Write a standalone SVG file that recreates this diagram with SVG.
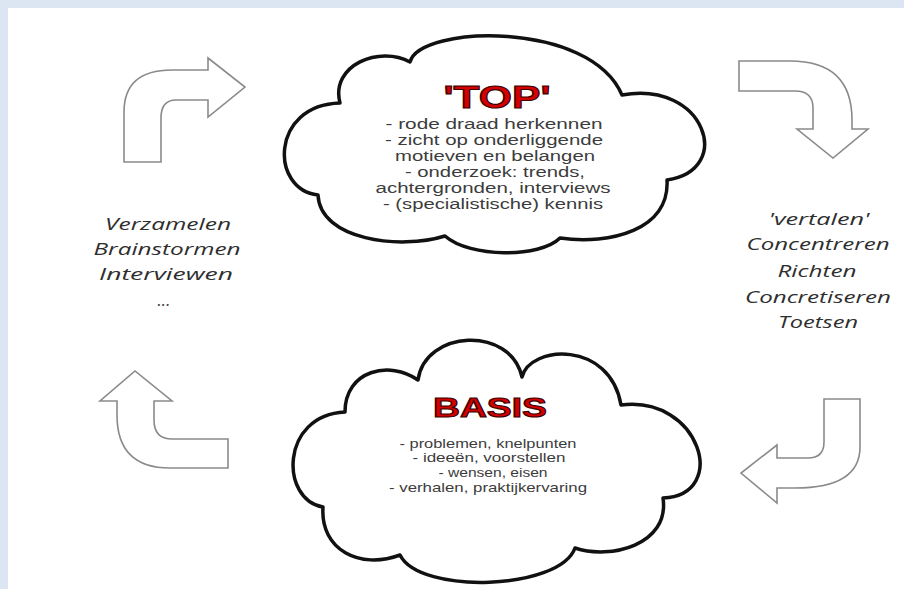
<svg xmlns="http://www.w3.org/2000/svg" width="904" height="589" viewBox="0 0 904 589">
<style>
.cloud{fill:#fff;stroke:#111;stroke-width:3.5;stroke-linejoin:round}
.arrow{fill:#fff;stroke:#8a8a8a;stroke-width:1.6;stroke-linejoin:miter}
.head{font-family:"Liberation Sans",Arial,sans-serif;font-weight:bold;fill:#d40000;stroke:#3a0000;stroke-width:1.1;text-anchor:middle}
.body{font-family:"Liberation Sans",Arial,sans-serif;fill:#3c3c3c;text-anchor:middle}
.side{font-family:"Open Sans","DejaVu Sans",sans-serif;font-style:italic;fill:#2e2e2e;font-size:17px;text-anchor:middle}
</style>
<rect x="0" y="0" width="904" height="589" fill="#dce6f2"/>
<rect x="8" y="8" width="896" height="581" fill="#ffffff"/>

<g id="connectors">
  <path class="arrow" d="M124,162 L124,112 Q124,70 172,70 L208,70 L208,58 L245,87 L208,117 L208,100 L176,100 Q161,100 161,118 L161,162 Z"/>
  <path class="arrow" d="M739,61 L790,61 Q852,61 852,120 L852,129 L868,129 L833,158 L797,129 L813,129 L813,108 Q813,91 795,91 L739,91 Z"/>
  <path class="arrow" d="M824,399 L860,399 L860,447 Q860,488 795,488 L777,488 L777,503 L741,473 L777,445 L777,458 L808,458 Q824,458 824,442 Z"/>
  <path class="arrow" d="M228,439 L172,439 Q154,439 154,420 L154,401 L172,401 L135,371 L100,401 L117,401 L117,415 Q117,468 170,468 L228,468 Z"/>
</g>

<g id="node-top">
  <path class="cloud" d="M410,62 C420,25 590,20 622,95 C705,80 735,170 667,180 C670,230 610,245 560,238 C540,258 470,258 445,236 C400,250 320,240 318,195 C270,190 270,105 340,103 C330,65 380,45 410,62 Z"/>
  <text class="head" x="497" y="108" font-size="32" textLength="107" lengthAdjust="spacingAndGlyphs">'TOP'</text>
  <g class="body" font-size="14">
    <text x="494" y="129" textLength="217" lengthAdjust="spacingAndGlyphs">- rode draad herkennen</text>
    <text x="494" y="145" textLength="218" lengthAdjust="spacingAndGlyphs">- zicht op onderliggende</text>
    <text x="495" y="161" textLength="200" lengthAdjust="spacingAndGlyphs">motieven en belangen</text>
    <text x="495" y="177" textLength="180" lengthAdjust="spacingAndGlyphs">- onderzoek: trends,</text>
    <text x="493" y="193" textLength="235" lengthAdjust="spacingAndGlyphs">achtergronden, interviews</text>
    <text x="493" y="209" textLength="220" lengthAdjust="spacingAndGlyphs">- (specialistische) kennis</text>
  </g>
</g>

<g id="node-basis">
  <path class="cloud" d="M345,412 C345,370 390,360 418,380 C425,330 510,325 522,377 C530,345 610,340 621,405 C700,395 730,495 663,498 C670,545 610,560 575,548 C560,590 420,595 400,555 C360,570 320,550 323,507 C280,500 280,415 345,412 Z"/>
  <text class="head" x="490" y="417" font-size="28" textLength="114" lengthAdjust="spacingAndGlyphs">BASIS</text>
  <g class="body" font-size="13">
    <text x="488" y="448" textLength="177" lengthAdjust="spacingAndGlyphs">- problemen, knelpunten</text>
    <text x="489" y="462" textLength="153" lengthAdjust="spacingAndGlyphs">- ideeën, voorstellen</text>
    <text x="493" y="477" textLength="109" lengthAdjust="spacingAndGlyphs">- wensen, eisen</text>
    <text x="488" y="492" textLength="198" lengthAdjust="spacingAndGlyphs">- verhalen, praktijkervaring</text>
  </g>
</g>

<g id="label-left">
  <text class="side" x="168" y="230" textLength="126" lengthAdjust="spacingAndGlyphs">Verzamelen</text>
  <text class="side" x="167" y="255" textLength="147" lengthAdjust="spacingAndGlyphs">Brainstormen</text>
  <text class="side" x="166" y="280" textLength="134" lengthAdjust="spacingAndGlyphs">Interviewen</text>
  <text class="side" x="164" y="306">...</text>
</g>

<g id="label-right">
  <text class="side" x="819" y="225" textLength="101" lengthAdjust="spacingAndGlyphs">'vertalen'</text>
  <text class="side" x="818" y="250" textLength="143" lengthAdjust="spacingAndGlyphs">Concentreren</text>
  <text class="side" x="817" y="277" textLength="79" lengthAdjust="spacingAndGlyphs">Richten</text>
  <text class="side" x="818" y="303" textLength="146" lengthAdjust="spacingAndGlyphs">Concretiseren</text>
  <text class="side" x="818" y="328" textLength="80" lengthAdjust="spacingAndGlyphs">Toetsen</text>
</g>
</svg>
